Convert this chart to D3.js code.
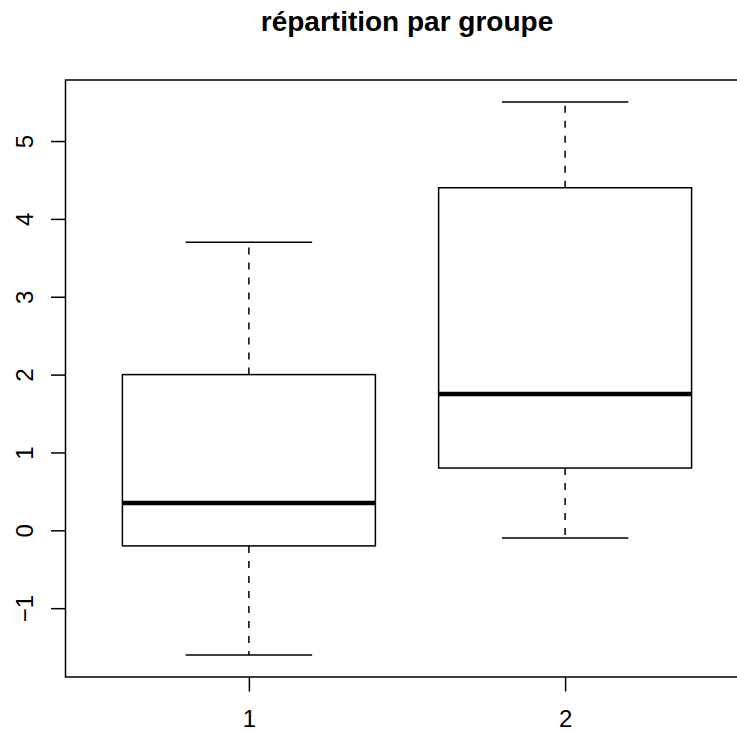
<!DOCTYPE html>
<html>
<head>
<meta charset="utf-8">
<script src="https://cdn.jsdelivr.net/npm/d3@7"></script>
<style>
  html, body { margin: 0; padding: 0; background: #fff; }
  svg { display: block; }
  text { font-family: "Liberation Sans", Arial, Helvetica, sans-serif; fill: #000; }
</style>
</head>
<body>
<svg id="chart" width="737" height="731"></svg>
<script>
// Five-number summaries per group
const groups = [1, 2];
const lowerWhisker = [-1.6, -0.1];
const lowerQuartile = [-0.2, 0.8];
const medians = [0.35, 1.75];
const upperQuartile = [2.0, 4.4];
const upperWhisker = [3.7, 5.5];

const yTicks = [-1, 0, 1, 2, 3, 4, 5];
const yTickLabels = ["\u22121", "0", "1", "2", "3", "4", "5"];
const xTickLabels = ["1", "2"];
const title = "répartition par groupe";

const svg = d3.select("#chart");

const plot = { left: 65.5, right: 748.5, top: 80, bottom: 677 };

// Axis limits padded by 4% on each side
const yMin = d3.min(lowerWhisker), yMax = d3.max(upperWhisker);
const yPad = (yMax - yMin) * 0.04;
const xPad = (groups.length) * 0.04;

const x = d3.scaleLinear()
  .domain([0.5 - xPad, groups.length + 0.5 + xPad])
  .range([plot.left, plot.right]);
const y = d3.scaleLinear()
  .domain([yMin - yPad, yMax + yPad])
  .range([plot.bottom, plot.top]);

const boxHalf = 0.4;   // half box width in x units
const stapleHalf = 0.2;
const lw = 1.5;

const g = svg.append("g");

groups.forEach((grp, i) => {
  const cx = x(grp);
  // dashed whiskers
  g.append("line")
    .attr("x1", cx).attr("x2", cx)
    .attr("y1", y(lowerQuartile[i])).attr("y2", y(lowerWhisker[i]))
    .attr("stroke", "#000").attr("stroke-width", lw)
    .attr("stroke-dasharray", "7,8");
  g.append("line")
    .attr("x1", cx).attr("x2", cx)
    .attr("y1", y(upperQuartile[i])).attr("y2", y(upperWhisker[i]))
    .attr("stroke", "#000").attr("stroke-width", lw)
    .attr("stroke-dasharray", "7,8");
  // staples
  [lowerWhisker[i], upperWhisker[i]].forEach(v => {
    g.append("line")
      .attr("x1", x(grp - stapleHalf)).attr("x2", x(grp + stapleHalf))
      .attr("y1", y(v)).attr("y2", y(v))
      .attr("stroke", "#000").attr("stroke-width", lw);
  });
  // box
  g.append("rect")
    .attr("x", x(grp - boxHalf))
    .attr("y", y(upperQuartile[i]))
    .attr("width", x(grp + boxHalf) - x(grp - boxHalf))
    .attr("height", y(lowerQuartile[i]) - y(upperQuartile[i]))
    .attr("fill", "#fff")
    .attr("stroke", "#000").attr("stroke-width", lw);
  // median
  g.append("line")
    .attr("x1", x(grp - boxHalf)).attr("x2", x(grp + boxHalf))
    .attr("y1", y(medians[i])).attr("y2", y(medians[i]))
    .attr("stroke", "#000").attr("stroke-width", 4.5);
});

// frame
svg.append("rect")
  .attr("x", plot.left).attr("y", plot.top)
  .attr("width", plot.right - plot.left)
  .attr("height", plot.bottom - plot.top)
  .attr("fill", "none")
  .attr("stroke", "#000").attr("stroke-width", lw);

// y axis
const yAxis = d3.axisLeft(y)
  .tickValues(yTicks)
  .tickFormat((d, i) => yTickLabels[i])
  .tickSize(14.5);
const ya = svg.append("g")
  .attr("transform", `translate(${plot.left},0)`)
  .call(yAxis);
ya.select(".domain").remove();
ya.selectAll(".tick line").attr("stroke", "#000").attr("stroke-width", lw);
ya.selectAll(".tick text")
  .attr("x", null).attr("dy", null)
  .attr("text-anchor", "middle")
  .attr("font-size", 24)
  .attr("transform", "translate(-32.5,0) rotate(-90)");

// x axis
const xAxis = d3.axisBottom(x)
  .tickValues(groups)
  .tickFormat((d, i) => xTickLabels[i])
  .tickSize(14.5);
const xa = svg.append("g")
  .attr("transform", `translate(0,${plot.bottom})`)
  .call(xAxis);
xa.select(".domain").remove();
xa.selectAll(".tick line").attr("stroke", "#000").attr("stroke-width", lw);
xa.selectAll(".tick text")
  .attr("y", 50).attr("dy", null)
  .attr("text-anchor", "middle")
  .attr("font-size", 24);

// title
svg.append("text")
  .attr("x", (plot.left + plot.right) / 2)
  .attr("y", 31)
  .attr("text-anchor", "middle")
  .attr("font-size", 28)
  .attr("font-weight", "bold")
  .text(title);
</script>
</body>
</html>
